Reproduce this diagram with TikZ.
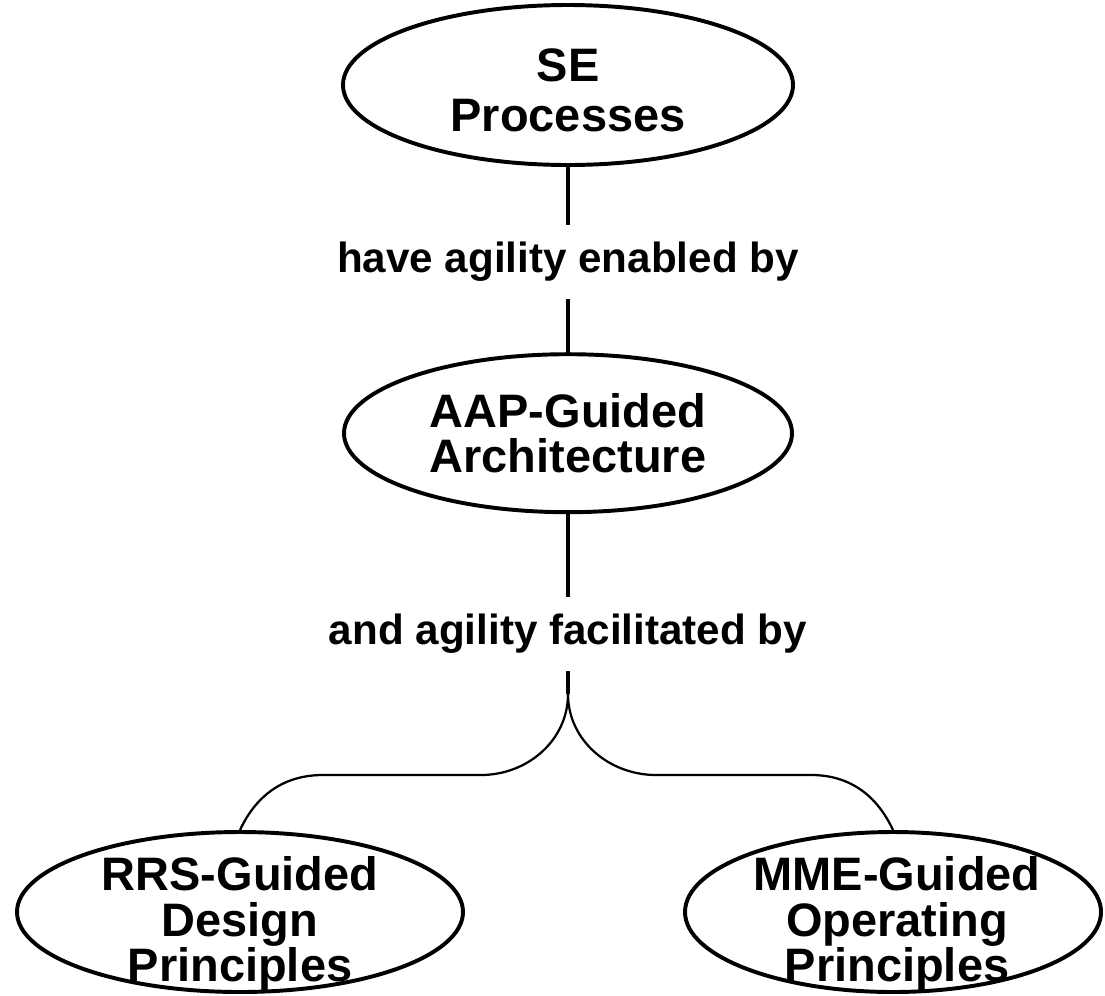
\documentclass[tikz,border=0pt]{standalone}
\usepackage{fontspec}
\setmainfont{Liberation Sans}
\usepackage{tikz}
\usetikzlibrary{positioning,shapes}

\begin{document}
\begin{tikzpicture}[
  bubble/.style={draw, ellipse, line width=2.8pt, minimum height=4cm, inner sep=0pt},
  bubbletext/.style={align=center, inner sep=0pt, font=\fontsize{33.4}{32.5}\selectfont\bfseries},
  linklabel/.style={inner xsep=0pt, inner ysep=0.43cm, font=\fontsize{30}{36}\selectfont\bfseries},
  link/.style={line width=2.5pt},
  branch/.style={line width=1.6pt}]
\useasboundingbox (0,0) rectangle (27.625,-24.875);

% SE Processes
\node[bubble, minimum width=11.25cm] (se) at (14.2,-2.125) {};
\node[bubbletext, font=\fontsize{33.4}{35.4}\selectfont\bfseries] (setext) at ([yshift=-0.125cm]se.center) {SE\\Processes};

% AAP-Guided Architecture
\node[bubble, minimum width=11.2cm, minimum height=3.95cm] (aap) at (14.2,-10.83) {};
\node[bubbletext] (aaptext) at (aap) {AAP-Guided\\Architecture};

% Link labels
\node[linklabel] (enabled) at (14.2,-6.55) {have agility enabled by};
\node[linklabel] (facilitated) at (14.2,-15.85) {and agility facilitated by};

% RRS / MME principles
\node[bubble, minimum width=11.15cm] (rrs) at (6.0,-22.8) {};
\node[bubbletext] (rrstext) at ([yshift=-0.3cm]rrs.center) {RRS-Guided\\Design\\Principles};
\node[bubble, minimum width=10.4cm] (mme) at (22.325,-22.8) {};
\node[bubbletext] (mmetext) at ([xshift=0.1cm,yshift=-0.3cm]mme.center) {MME-Guided\\Operating\\Principles};

% branch points
\coordinate (split) at (14.2,-17.35);
\coordinate (lefta) at (12.025,-19.375);
\coordinate (leftb) at (8.075,-19.375);
\coordinate (righta) at (16.4,-19.375);
\coordinate (rightb) at (20.275,-19.375);

\draw[link] (se) -- (enabled);
\draw[link] (enabled) -- (aap);
\draw[link] (aap) -- (facilitated);
\draw[link] (facilitated) -- (split);
\draw[branch] (split) to[out=-90, in=0] (lefta) -- (leftb) to[out=180, in=65] (rrs.north);
\draw[branch] (split) to[out=-90, in=180] (righta) -- (rightb) to[out=0, in=115] (mme.north);
\end{tikzpicture}
\end{document}
